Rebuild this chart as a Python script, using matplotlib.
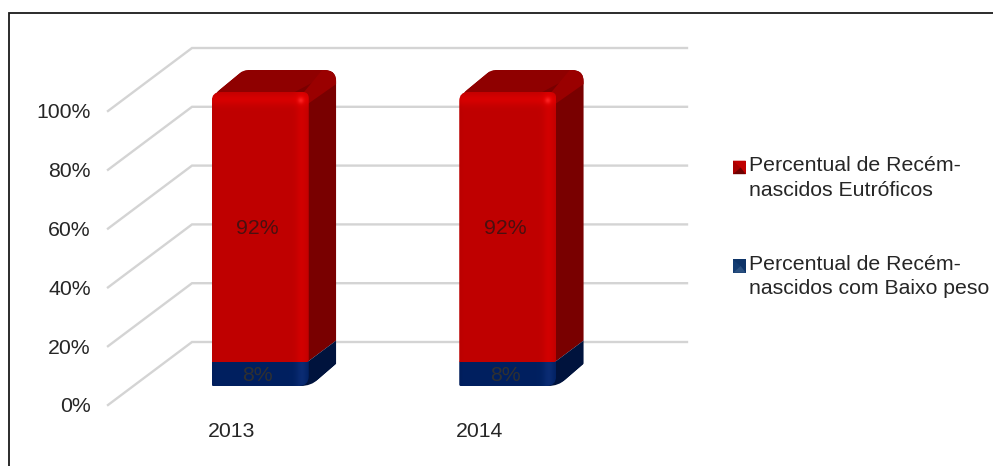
import numpy as np
import matplotlib
matplotlib.use("Agg")
import matplotlib.pyplot as plt
from matplotlib.lines import Line2D
from matplotlib.patches import PathPatch, Rectangle, Polygon
from matplotlib.path import Path
from matplotlib.legend_handler import HandlerBase
from matplotlib.ticker import PercentFormatter

plt.rcParams["font.family"] = ["Liberation Sans", "DejaVu Sans"]

# Chart values
years = ["2013", "2014"]
baixo_peso = [0.08, 0.08]
eutroficos = [0.92, 0.92]
y_ticks = [0, 0.2, 0.4, 0.6, 0.8, 1.0]
legend_labels = ["Percentual de Recém-\nnascidos Eutróficos",
                 "Percentual de Recém-\nnascidos com Baixo peso"]

TEXT = "#262626"
FONT = 15.3
W, H = 993, 466
fig = plt.figure(figsize=(W / 100, H / 100), dpi=100, facecolor="white")

# Front plane of the pseudo-3D plot, in figure pixels
LEFT, RIGHT, TOP, BOTTOM = 108, 603, 111, 405
ax = fig.add_axes([LEFT / W, 1 - BOTTOM / H, (RIGHT - LEFT) / W, (BOTTOM - TOP) / H])
ax.set_xlim(-0.5, 1.5)
ax.set_ylim(0, 1)
ax.patch.set_alpha(0)
for s in ax.spines.values():
    s.set_visible(False)

sx = (RIGHT - LEFT) / 2   # pixels per category
sy = BOTTOM - TOP         # pixels per unit of value

# Oblique offsets, as pixels on screen
WALL_DX, WALL_DY = 84 / sx, 63 / sy
BAR_SHIFT_X, BAR_SHIFT_Y = 28.5 / sx, 19 / sy
BAR_DX, BAR_DY = 27.5 / sx, 22 / sy
BAR_W = 97 / sx


def rounded(points, radii):
    """Closed path through points with each corner rounded by a pixel radius."""
    pts = np.array(points, float) * [sx, sy]
    n = len(pts)
    verts, codes = [], []
    for i in range(n):
        p, a, b = pts[i], pts[i - 1], pts[(i + 1) % n]
        r = radii[i]
        ua = (a - p) / np.linalg.norm(a - p)
        ub = (b - p) / np.linalg.norm(b - p)
        start, end = p + ua * r, p + ub * r
        verts += [start, p, end]
        codes += [Path.LINETO, Path.CURVE3, Path.CURVE3]
    codes[0] = Path.MOVETO
    verts.append(verts[0])
    codes.append(Path.CLOSEPOLY)
    return Path(np.array(verts) / [sx, sy], codes)


def polygon(points):
    """Closed straight-edged path through points."""
    return Path(list(points) + [points[0]], closed=True)


def shape(path, color, z, outline=None):
    """Add a flat face; when an outline is given the face is trimmed to it."""
    patch = PathPatch(path, facecolor=color, edgecolor="none", zorder=z, clip_on=outline is not None)
    ax.add_patch(patch)
    if outline is not None:
        patch.set_clip_path(PathPatch(outline, transform=ax.transData))
        patch.set_clip_box(fig.bbox)
    return patch


def shaded_face(path, extent, base, bright, glow_top, z):
    """Fill a face with a bevel: a bright right band and, optionally, a lit top edge."""
    nx, ny = 97, 300
    u = np.linspace(0, 1, nx)
    v = np.linspace(0, 1, ny)
    band = np.exp(-((u - 0.93) / 0.06) ** 2)
    left = np.exp(-(u / 0.03) ** 2) * -0.25
    mix = np.tile(band + left, (ny, 1))
    if glow_top:
        scale = (extent[3] - extent[2]) * sy
        mix = mix + np.exp(-((v * scale - 8) / 6) ** 2)[:, None] * 1.3
    base, bright = np.array(base), np.array(bright)
    rgb = base + (bright - base)[None, None, :] * mix[:, :, None]
    if glow_top:
        spot = np.exp(-((u[None, :] - 0.92) / 0.03) ** 2 - ((v[:, None] * scale - 9) / 3) ** 2)
        rgb = rgb + spot[:, :, None] * np.array([0.08, 0.13, 0.13])
    im = ax.imshow(np.clip(rgb, 0, 1), extent=extent, origin="upper", aspect="auto",
                   interpolation="bilinear", zorder=z)
    im.set_clip_path(PathPatch(path, transform=ax.transData, facecolor="none", edgecolor="none"))
    im.set_clip_box(fig.bbox)
    ax.set_xlim(-0.5, 1.5)
    ax.set_ylim(0, 1)


# Grid lines run from the front edge up the side wall and along the back wall
for t in y_ticks:
    ax.plot([-0.5, -0.5 + WALL_DX, 1.5 + WALL_DX], [t, t + WALL_DY, t + WALL_DY],
            color="#d4d4d4", lw=1.7, clip_on=False, zorder=1, solid_joinstyle="miter")

RED = (0.75, 0.0, 0.0)
RED_BRIGHT = (0.82, 0.0, 0.0)
BLUE = (0.0, 0.125, 0.376)
BLUE_BRIGHT = (0.04, 0.17, 0.45)

# Stacked bars: blue segment at the bottom, red segment above it
for i, (low, high) in enumerate(zip(baixo_peso, eutroficos)):
    x0 = i - BAR_W / 2 + BAR_SHIFT_X
    x1 = x0 + BAR_W
    y0 = BAR_SHIFT_Y
    ya = y0 + low
    yb = ya + high
    bx, by = BAR_DX, BAR_DY
    inner = x1 - 14 / sx

    # outer silhouette of the top and side faces, rounded where the block turns
    outline = rounded([(x0, yb - 4 / sy), (x0 + bx + 4 / sx, yb + by), (x1 + bx, yb + by),
                       (x1 + bx, y0 + by), (x1 + 2 / sx, y0), (inner, y0)],
                      [10, 5, 12, 1, 10, 0.1])

    # top face
    shape(polygon([(x0, yb - 4 / sy), (x0 + bx + 4 / sx, yb + by), (x1 + bx, yb + by), (x1, yb)]),
          "#8f0000", 3, outline)
    # side faces
    shape(polygon([(inner, ya), (inner, yb), (x1 + bx, yb + by), (x1 + bx, ya + by), (x1 - 2 / sx, ya)]),
          "#790000", 3, outline)
    # bevel running along the upper edge of the side face
    shape(polygon([(x1 - 8 / sx, yb - 4 / sy), (x1 + bx - 14 / sx, yb + by), (x1 + bx, yb + by),
                   (x1 + bx, yb + by - 14 / sy), (x1 - 1 / sx, yb - 12 / sy)]),
          "#9a0000", 3.1, outline)
    shape(polygon([(inner, y0), (inner, ya), (x1 - 2 / sx, ya), (x1 + bx, ya + by),
                   (x1 + bx, y0 + by), (x1 + 2 / sx, y0)]),
          "#00133d", 3.2, outline)
    # front faces
    blue_path = rounded([(x0, y0), (x0, ya + 1 / sy), (x1, ya + 1 / sy), (x1, y0)], [1.5, 0.5, 0.5, 10])
    shaded_face(blue_path, [x0, x1, y0, ya + 1 / sy], BLUE, BLUE_BRIGHT, False, 4)
    red_path = rounded([(x0, ya), (x0, yb), (x1, yb), (x1, ya)], [0.5, 9, 6, 3])
    shaded_face(red_path, [x0, x1, ya, yb], RED, RED_BRIGHT, True, 5)

    label_x = x0 + BAR_W / 2 - 2.5 / sx
    ax.text(label_x, y0 + low / 2 - 1.5 / sy, f"{low:.0%}", ha="center", va="center",
            fontsize=FONT, color="#303030", zorder=6)
    ax.text(label_x, ya + high / 2 - 1.5 / sy, f"{high:.0%}", ha="center", va="center",
            fontsize=FONT, color="#4a1010", zorder=6)

# Axis labels sit on the front plane
ax.set_xticks(range(len(years)), years)
ax.set_yticks(y_ticks)
ax.yaxis.set_major_formatter(PercentFormatter(1.0, decimals=0))
ax.tick_params(axis="both", length=0, labelsize=FONT, labelcolor=TEXT)
ax.tick_params(axis="y", pad=12.5)
ax.tick_params(axis="x", pad=12)


class BevelHandler(HandlerBase):
    """Legend key drawn as a small bevelled square, level with the label's first line."""

    def __init__(self, mid, light, dark, lift=7.5):
        super().__init__()
        self.cols = mid, light, dark
        self.lift = lift

    def create_artists(self, legend, orig, xd, yd, w, h, fs, trans):
        mid, light, dark = self.cols
        x0, y0 = -xd, -yd + self.lift
        x1, y1 = x0 + w, y0 + h
        cx, cy = x0 + w * 0.6, y0 + h / 2
        parts = [
            Rectangle((x0, y0), w, h, facecolor=mid, edgecolor="none"),
            Polygon([(x0, y0), (x0, y1), (cx, cy)], facecolor=light, edgecolor="none"),
            Polygon([(x0, y1), (x1, y1), (cx, cy)], facecolor=mid, edgecolor="none"),
            Polygon([(x0, y0), (x1, y0), (cx, cy)], facecolor=dark, edgecolor="none"),
        ]
        for p in parts:
            p.set_transform(trans)
        return parts


red_key = Rectangle((0, 0), 1, 1)
blue_key = Rectangle((0, 0), 1, 1)
leg = fig.legend([red_key, blue_key], legend_labels,
                 handler_map={red_key: BevelHandler("#c00000", "#a80000", "#6e0000"),
                              blue_key: BevelHandler("#0e3468", "#133c72", "#2a5080")},
                 loc="upper left", bbox_to_anchor=(733 / W, 1 - 156 / H), frameon=False, fontsize=FONT,
                 labelcolor=TEXT, labelspacing=2.58, handlelength=0.6, handleheight=0.6,
                 handletextpad=0.13, borderpad=0, borderaxespad=0, alignment="left")
for t in leg.get_texts():
    t.set_linespacing(1.38)

# Chart frame, cut off by the right and bottom edges
fig.add_artist(Line2D([9 / W, 9 / W, 1], [0, 1 - 12.5 / H, 1 - 12.5 / H], color="#1a1a1a", lw=1.3,
                      transform=fig.transFigure, solid_joinstyle="miter"))

fig.savefig("out.png", dpi=100, facecolor="white")
